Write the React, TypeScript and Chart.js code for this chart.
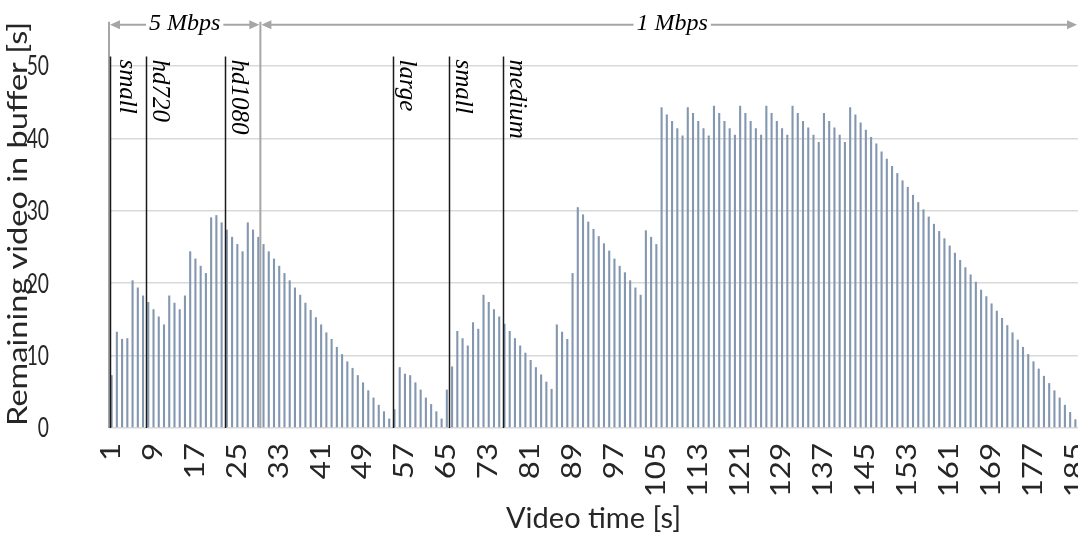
import React, { useEffect, useRef } from 'react';
import { Chart, registerables } from 'chart.js';

Chart.register(...registerables);

// Categories: video time in seconds (1..185)
const CATEGORIES: string[] = Array.from({ length: 185 }, (_, i) => String(i + 1));

// Tick labels shown on the x axis
const TICK_LABELS: string[] = [
  '1', '9', '17', '25', '33', '41', '49', '57', '65', '73', '81', '89',
  '97', '105', '113', '121', '129', '137', '145', '153', '161', '169', '177', '185',
];

// Remaining video in buffer [s], one value per second
const BUFFER: number[] = [
  7.3, 13.3, 12.3, 12.4, 20.4, 19.4, 18.3, 17.4, 16.4, 15.4,
  14.3, 18.3, 17.3, 16.4, 18.3, 24.4, 23.4, 22.4, 21.4, 29.1,
  29.4, 28.4, 27.4, 26.4, 25.4, 24.4, 28.4, 27.4, 26.4, 25.4,
  24.4, 23.4, 22.4, 21.4, 20.4, 19.4, 18.4, 17.3, 16.3, 15.3,
  14.3, 13.2, 12.3, 11.2, 10.2, 9.2, 8.3, 7.3, 6.3, 5.2,
  4.2, 3.2, 2.3, 1.3, 2.6, 8.4, 7.5, 7.3, 6.3, 5.3,
  4.2, 3.3, 2.3, 1.3, 5.3, 8.5, 13.4, 12.4, 11.4, 14.6,
  13.7, 18.4, 17.4, 16.4, 15.4, 14.4, 13.4, 12.4, 11.4, 10.4,
  9.4, 8.4, 7.4, 6.4, 5.4, 14.3, 13.3, 12.3, 21.4, 30.5,
  29.5, 28.5, 27.5, 26.5, 25.5, 24.5, 23.4, 22.4, 21.5, 20.4,
  19.4, 18.4, 27.3, 26.4, 25.4, 44.3, 43.3, 42.4, 41.4, 40.4,
  44.3, 43.5, 42.4, 41.4, 40.4, 44.5, 43.5, 42.4, 41.4, 40.5,
  44.5, 43.5, 42.4, 41.4, 40.5, 44.5, 43.5, 42.4, 41.4, 40.5,
  44.5, 43.5, 42.4, 41.5, 40.5, 39.5, 43.5, 42.4, 41.5, 40.5,
  39.5, 44.3, 43.3, 42.2, 41.2, 40.2, 39.3, 38.2, 37.2, 36.2,
  35.2, 34.2, 33.3, 32.2, 31.2, 30.2, 29.2, 28.2, 27.2, 26.2,
  25.2, 24.2, 23.2, 22.2, 21.2, 20.2, 19.1, 18.2, 17.2, 16.2,
  15.2, 14.2, 13.2, 12.2, 11.2, 10.2, 9.2, 8.2, 7.2, 6.2,
  5.2, 4.2, 3.2, 2.2, 1.2,
];

// Quality switches (position on the category axis, 0-based index units)
const SWITCH_LABELS: string[] = ['small', 'hd720', 'hd1080', 'large', 'small', 'medium'];
const SWITCH_AT: number[] = [-0.38, 6.64, 21.6, 53.66, 64.5, 74.66];

// Bandwidth phases: labels and boundaries on the category axis
const RATE_LABELS: string[] = ['5 Mbps', '1 Mbps'];
const RATE_BOUNDS: number[] = [-0.5, 28.4, 184.5];

const Y_TITLE = 'Remaining video in buffer [s]';
const X_TITLE = 'Video time [s]';

// Heights (in y-axis units) of the annotation row, marker tops and y-title centre
const ARROW_LEVEL = 55.7;
const MARKER_TOP = 51.3;
const Y_TITLE_LEVEL = 28.2;

const TEXT_COLOR = '#262626';
const BAR_COLOR = '#8497b0';
const GRID_COLOR = '#d9d9d9';
const GREY_LINE = '#a6a6a6';
const SANS = 'Lato';
const SERIF_ITALIC = 'italic 24px "Liberation Serif", "Times New Roman", serif';
const SERIF_ITALIC_V = 'italic 25px "Liberation Serif", "Times New Roman", serif';

const annotationPlugin = {
  id: 'bufferAnnotations',
  afterDatasetsDraw(chart: any) {
    const { ctx, scales } = chart;
    const x = scales.x;
    const y = scales.y;
    const base = y.getPixelForValue(0);
    const arrowY = y.getPixelForValue(ARROW_LEVEL);
    const markTop = y.getPixelForValue(MARKER_TOP);
    ctx.save();
    ctx.fillStyle = TEXT_COLOR;

    // y tick labels (narrow, tall glyphs like the original)
    y.ticks.forEach((t: any) => {
      ctx.save();
      ctx.translate(x.left - 60, y.getPixelForValue(t.value));
      ctx.scale(0.74, 1);
      ctx.font = `26px ${SANS}`;
      ctx.textAlign = 'right';
      ctx.textBaseline = 'middle';
      ctx.fillText(String(t.value), 0, 1);
      ctx.restore();
    });

    // x tick labels, rotated
    TICK_LABELS.forEach((label) => {
      const idx = CATEGORIES.indexOf(label);
      ctx.save();
      ctx.translate(x.getPixelForValue(idx), base + 15);
      ctx.rotate(-Math.PI / 2);
      ctx.scale(1.2, 1);
      ctx.font = `26px ${SANS}`;
      ctx.textAlign = 'right';
      ctx.textBaseline = 'middle';
      ctx.fillText(label, 0, 0);
      ctx.restore();
    });

    // y axis title (stretched along its length like the original)
    ctx.save();
    ctx.translate(27, y.getPixelForValue(Y_TITLE_LEVEL));
    ctx.rotate(-Math.PI / 2);
    ctx.scale(1.25, 1);
    ctx.font = `26px ${SANS}`;
    ctx.textAlign = 'center';
    ctx.textBaseline = 'alphabetic';
    ctx.fillText(Y_TITLE, 0, 0);
    ctx.restore();

    // grey phase boundary lines
    ctx.strokeStyle = GREY_LINE;
    ctx.lineWidth = 2;
    RATE_BOUNDS.slice(0, RATE_BOUNDS.length - 1).forEach((v) => {
      const px = x.getPixelForValue(v);
      ctx.beginPath();
      ctx.moveTo(px, arrowY - 3);
      ctx.lineTo(px, base);
      ctx.stroke();
    });

    // black quality switch lines + labels
    SWITCH_AT.forEach((v, i) => {
      const px = Math.round(x.getPixelForValue(v)) + 0.5;
      ctx.strokeStyle = '#1a1a1a';
      ctx.lineWidth = 1.5;
      ctx.beginPath();
      ctx.moveTo(px, markTop);
      ctx.lineTo(px, base);
      ctx.stroke();

      ctx.save();
      ctx.translate(px + (i === 0 ? 9 : 6), markTop + 3);
      ctx.rotate(Math.PI / 2);
      ctx.font = SERIF_ITALIC_V;
      ctx.fillStyle = '#000';
      ctx.textAlign = 'left';
      ctx.textBaseline = 'alphabetic';
      ctx.fillText(SWITCH_LABELS[i], 0, 0);
      ctx.restore();
    });

    // arrows with rate labels
    const head = 10;
    const half = 4.5;
    RATE_LABELS.forEach((label, i) => {
      const x1 = x.getPixelForValue(RATE_BOUNDS[i]) + 1;
      const x2 = x.getPixelForValue(RATE_BOUNDS[i + 1]) - 1;
      ctx.strokeStyle = GREY_LINE;
      ctx.fillStyle = GREY_LINE;
      ctx.lineWidth = 2;
      ctx.beginPath();
      ctx.moveTo(x1 + head - 1, arrowY);
      ctx.lineTo(x2 - head + 1, arrowY);
      ctx.stroke();
      ctx.beginPath();
      ctx.moveTo(x1, arrowY);
      ctx.lineTo(x1 + head, arrowY - half);
      ctx.lineTo(x1 + head, arrowY + half);
      ctx.closePath();
      ctx.fill();
      ctx.beginPath();
      ctx.moveTo(x2, arrowY);
      ctx.lineTo(x2 - head, arrowY - half);
      ctx.lineTo(x2 - head, arrowY + half);
      ctx.closePath();
      ctx.fill();

      ctx.font = SERIF_ITALIC;
      const w = ctx.measureText(label).width;
      const cx = (x1 + x2) / 2 + (i === 1 ? 3 : 0);
      ctx.fillStyle = '#fff';
      ctx.fillRect(cx - w / 2 - 3, arrowY - 4, w + 6, 8);
      ctx.fillStyle = '#000';
      ctx.textAlign = 'center';
      ctx.textBaseline = 'alphabetic';
      ctx.fillText(label, cx, arrowY + 5.5);
    });

    ctx.restore();
  },
};

export default function App() {
  const ref = useRef<HTMLCanvasElement>(null);

  useEffect(() => {
    if (!ref.current) return;
    const chart = new Chart(ref.current, {
      type: 'bar',
      data: {
        labels: CATEGORIES,
        datasets: [
          {
            label: 'Remaining video in buffer',
            data: BUFFER,
            backgroundColor: BAR_COLOR,
            barPercentage: 0.4,
            categoryPercentage: 1,
          },
        ],
      },
      options: {
        animation: false,
        responsive: true,
        maintainAspectRatio: false,
        layout: { padding: { top: 66, right: 0, bottom: 0, left: 0 } },
        plugins: { legend: { display: false }, tooltip: { enabled: false } },
        scales: {
          x: {
            grid: { display: false, drawTicks: false },
            border: { display: false },
            ticks: { display: false, autoSkip: false },
            title: {
              display: true,
              text: X_TITLE,
              color: TEXT_COLOR,
              font: { family: SANS, size: 29, lineHeight: 1 },
              padding: { top: 0, bottom: 0 },
            },
            afterFit: (s: any) => {
              s.height = 105;
              s.paddingLeft = 0;
              s.paddingRight = 0;
            },
          },
          y: {
            min: 0,
            max: 50,
            ticks: { display: false, stepSize: 10 },
            grid: { color: GRID_COLOR, lineWidth: 1.5, drawTicks: false },
            border: { display: false },
            title: { display: false },
            afterFit: (s: any) => {
              s.width = 109;
              s.paddingTop = 0;
              s.paddingBottom = 0;
            },
          },
        },
      },
      plugins: [annotationPlugin],
    });
    return () => chart.destroy();
  }, []);

  return (
    <div
      style={{
        position: 'fixed',
        left: 0,
        top: 0,
        width: 1078,
        height: 533,
        background: '#ffffff',
      }}
    >
      <canvas ref={ref} />
    </div>
  );
}
